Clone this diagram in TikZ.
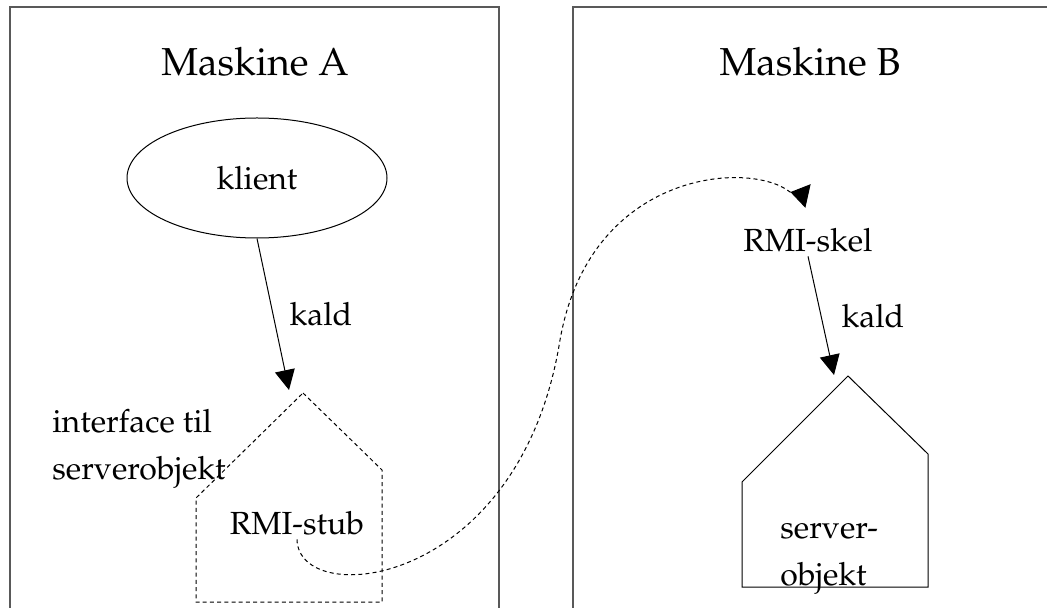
\documentclass[tikz,border=0pt]{standalone}
\usepackage[T1]{fontenc}
\usepackage{mathpazo}
\usetikzlibrary{arrows.meta,shapes.geometric,positioning}

\begin{document}
\begin{tikzpicture}[
    x=0.5pt, y=-0.5pt,
    machine/.style={
        draw=black!65,
        line width=0.9pt
    },
    heading/.style={
        inner sep=0pt,
        font=\fontsize{19.5}{24}\selectfont
    },
    txt/.style={
        inner sep=2pt,
        font=\fontsize{16}{23.5}\selectfont
    },
    note/.style={
        txt,
        align=left,
        inner sep=0pt
    },
    house/.style={
        draw,
        line width=0.5pt,
        line join=miter
    },
    dashedline/.style={
        dash pattern=on 2pt off 1.6pt
    },
    call/.style={
        draw,
        line width=0.5pt,
        -{Triangle[length=10pt,width=10pt]}
    }
]

    \clip (0,0) rectangle (1047,608);

    % Machines
    \draw [machine] (10,640) |- (499,7) -- (499,640);
    \draw [machine] (573,640) |- (1060,7);
    \node [heading] (mach_a) at (255,62) {Maskine A};
    \node [heading] (mach_b) at (810,62) {Maskine B};

    % Client side
    \node [txt, draw, ellipse, line width=0.5pt, minimum width=130pt, minimum height=60pt] (klient) at (257,178) {klient};
    \draw [house, dashedline] (303,393) -- (382,470) -- (382,602) -- (196,602) -- (196,498) -- cycle;
    \coordinate (stub_top) at (289,390);
    \node [txt] (stub) at (297,523) {RMI-stub};
    \node [note, anchor=north west] (iface) at (52,409) {interface til\\serverobjekt};

    % Server side
    \node [txt] (skel) at (808,240) {RMI-skel};
    \coordinate (skel_in) at (808,196);
    \draw [house] (848,376) -- (928,454) -- (928,587) -- (742,587) -- (742,482) -- cycle;
    \coordinate (server_top) at (834,375);
    \node [note, anchor=north west] (server) at (780,523) {server-\\objekt};

    % Calls
    \path [call] (klient.south) -- node [txt, right=6pt] (kald_a) {kald} (stub_top);
    \path [call] (skel.south) -- node [txt, right=8pt] (kald_b) {kald} (server_top);

    % Remote link
    \draw [dashedline, line width=0.5pt, -{Triangle[reversed,length=9pt,width=12pt]}]
        (stub.south) .. controls (298,610) and (520,590) .. (560,340)
        .. controls (590,170) and (750,160) .. (790,192) -- (skel_in);

\end{tikzpicture}
\end{document}
